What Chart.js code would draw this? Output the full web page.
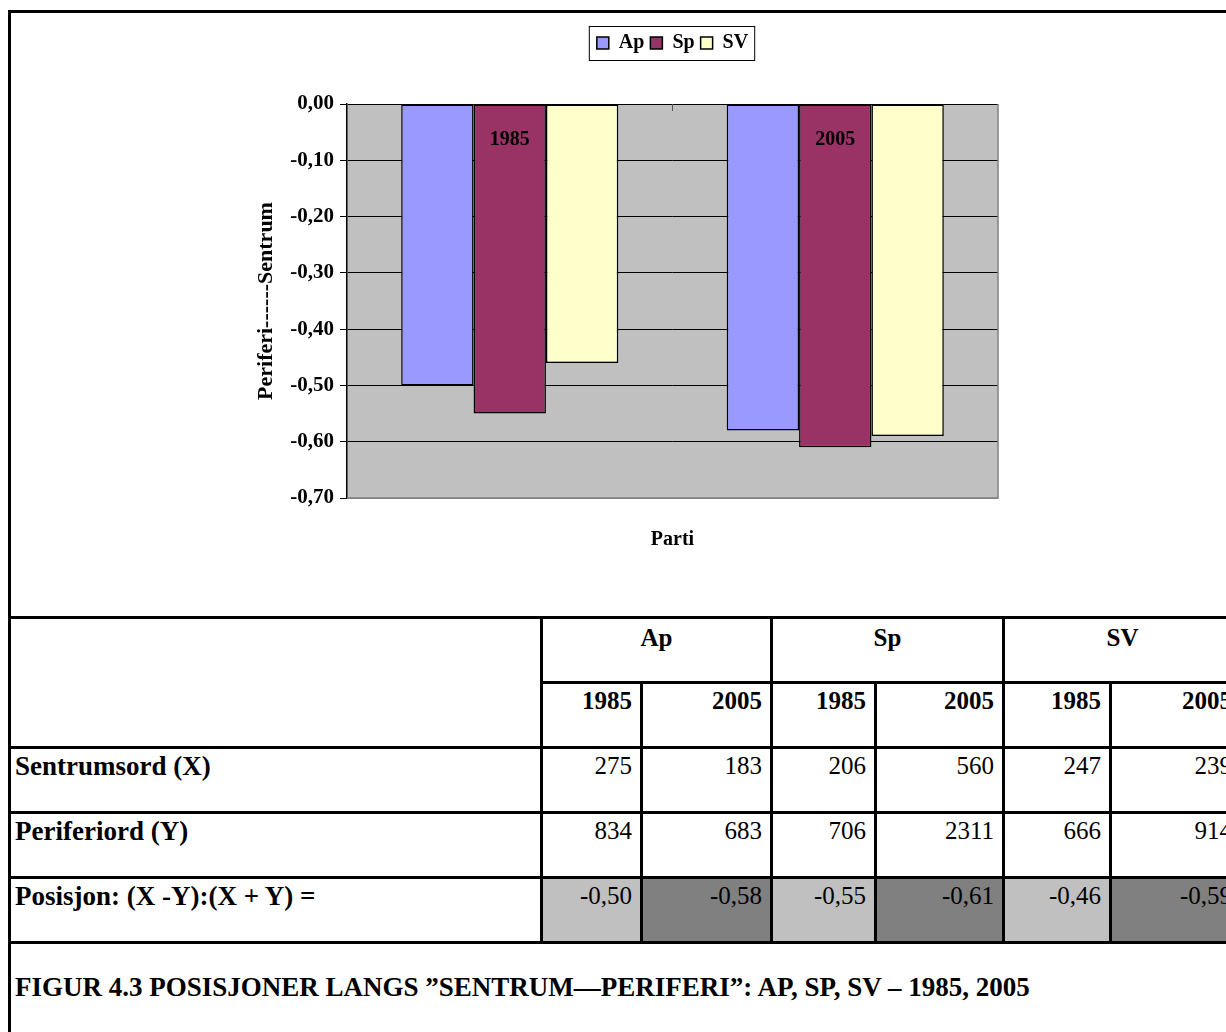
<!DOCTYPE html>
<html>
<head>
<meta charset="utf-8">
<script src="https://cdn.jsdelivr.net/npm/chart.js@4.4.0/dist/chart.umd.min.js"></script>
<style>
  html, body { margin: 0; padding: 0; background: #fff; overflow: hidden; }
  body { width: 1226px; height: 1032px; position: relative; font-family: "Times New Roman", "Liberation Serif", serif; }
  #tbl { position: absolute; left: 8px; top: 10px; border-collapse: collapse; table-layout: fixed; width: 1232px; }
  #tbl td { border: 3px solid #000; padding: 3px 8px 0 8px; font-size: 25px; vertical-align: top; text-align: right; color: #000; }
  #tbl td.lbl { text-align: left; font-weight: bold; padding-left: 4px; font-size: 27px; padding-top: 2px; }
  #tbl td.hd { font-weight: bold; }
  #tbl td.grp { text-align: center; font-weight: bold; padding-top: 5px; }
  #tbl td.lys { background: #C0C0C0; }
  #tbl td.mork { background: #808080; }
  #tbl td.cap { text-align: left; font-weight: bold; padding-left: 4px; font-size: 27px; padding-top: 28px; }
  #wrap { position: absolute; left: 10px; top: 13px; width: 1216px; height: 604px; z-index: 2; }
</style>
</head>
<body>
<table id="tbl"></table>
<div id="wrap"><canvas id="myChart"></canvas></div>
<script>
// diagram
const categories = ["1985", "2005"];
const apValues = [-0.50, -0.58];
const spValues = [-0.55, -0.61];
const svValues = [-0.46, -0.59];
const yMin = -0.7;
const yMax = 0;
const yStep = 0.1;

// tabell
const parties = ["Ap", "Sp", "SV"];
const tableYears = ["1985", "2005", "1985", "2005", "1985", "2005"];
const sentrumsord = [275, 183, 206, 560, 247, 239];
const periferiord = [834, 683, 706, 2311, 666, 914];
const posisjon = [-0.50, -0.58, -0.55, -0.61, -0.46, -0.59];
const caption = "FIGUR 4.3 POSISJONER LANGS \u201DSENTRUM\u2014PERIFERI\u201D: AP, SP, SV \u2013 1985, 2005";

const komma = (v) => (Math.abs(v) < 1e-9 ? 0 : v).toFixed(2).replace(".", ",");

// bygg tabellen
let html = '<colgroup><col style="width:532px"><col style="width:100px"><col style="width:130px">' +
  '<col style="width:104px"><col style="width:128px"><col style="width:107px"><col style="width:131px"></colgroup>';
html += '<tr style="height:606px"><td colspan="7"></td></tr>';
html += '<tr style="height:65px"><td rowspan="2"></td>' + parties.map(p => '<td class="grp" colspan="2">' + p + '</td>').join("") + '</tr>';
html += '<tr style="height:65px">' + tableYears.map(y => '<td class="hd">' + y + '</td>').join("") + '</tr>';
html += '<tr style="height:65px"><td class="lbl">Sentrumsord (X)</td>' + sentrumsord.map(v => '<td>' + v + '</td>').join("") + '</tr>';
html += '<tr style="height:65px"><td class="lbl">Periferiord (Y)</td>' + periferiord.map(v => '<td>' + v + '</td>').join("") + '</tr>';
html += '<tr style="height:65px"><td class="lbl">Posisjon: (X -Y):(X + Y) =</td>' +
  posisjon.map((v, i) => '<td class="' + (i % 2 ? "mork" : "lys") + '">' + komma(v) + '</td>').join("") + '</tr>';
html += '<tr style="height:130px"><td class="cap" colspan="7">' + caption + '</td></tr>';
document.getElementById("tbl").innerHTML = html;

const serif = "'Times New Roman', 'Liberation Serif', serif";
Chart.defaults.font.family = serif;
Chart.defaults.color = "#000";

// grå plottbakgrunn + ramme, årstall inne i plottet, ramme rundt legend
const excelLook = {
  id: "excelLook",
  beforeUpdate(chart) {
    // litt luft under legenden
    if (chart.legend && !chart.legend._patched) {
      const fit = chart.legend.fit;
      chart.legend.fit = function () { fit.call(this); this.height += 41; };
      chart.legend._patched = true;
    }
  },
  beforeDraw(chart) {
    const { ctx, chartArea: a } = chart;
    ctx.save();
    ctx.fillStyle = "#C0C0C0";
    ctx.fillRect(a.left, a.top, a.right - a.left, a.bottom - a.top);
    ctx.restore();
  },
  beforeDatasetsDraw(chart) {
    const { ctx, chartArea: a } = chart;
    ctx.save();
    ctx.strokeStyle = "#808080";
    ctx.lineWidth = 1.5;
    ctx.beginPath();
    ctx.moveTo(a.right, a.top);
    ctx.lineTo(a.right, a.bottom);
    ctx.lineTo(a.left, a.bottom);
    ctx.stroke();
    ctx.restore();
  },
  afterDatasetsDraw(chart) {
    const { ctx, scales } = chart;
    const y0 = scales.y.getPixelForValue(0);
    ctx.save();
    // tick mellom kategoriene
    ctx.strokeStyle = "#555";
    ctx.lineWidth = 1;
    const mid = (scales.x.getPixelForValue(0) + scales.x.getPixelForValue(1)) / 2;
    ctx.beginPath();
    ctx.moveTo(mid, y0);
    ctx.lineTo(mid, y0 + 7);
    ctx.stroke();
    ctx.fillStyle = "#000";
    ctx.font = "bold 20px " + serif;
    ctx.textAlign = "center";
    ctx.textBaseline = "middle";
    categories.forEach((c, i) => {
      ctx.fillText(c, scales.x.getPixelForValue(i), y0 + 36);
    });
    ctx.restore();
  },
  afterDraw(chart) {
    const hb = chart.legend.legendHitBoxes;
    if (!hb || !hb.length) return;
    const x1 = Math.min(...hb.map((b) => b.left)) - 8;
    const x2 = Math.max(...hb.map((b) => b.left + b.width)) + 6;
    const y1 = hb[0].top - 7;
    const y2 = hb[0].top + hb[0].height + 7;
    const ctx = chart.ctx;
    ctx.save();
    ctx.strokeStyle = "#000";
    ctx.lineWidth = 1;
    ctx.strokeRect(x1 + 0.5, y1 + 0.5, x2 - x1, y2 - y1);
    ctx.restore();
  },
};

const ctx = document.getElementById("myChart");
new Chart(ctx, {
  type: "bar",
  data: {
    labels: categories,
    datasets: [
      { label: "Ap", data: apValues, backgroundColor: "#9999FF" },
      { label: "Sp", data: spValues, backgroundColor: "#993366" },
      { label: "SV", data: svValues, backgroundColor: "#FFFFCC" },
    ],
  },
  options: {
    responsive: true,
    maintainAspectRatio: false,
    animation: false,
    datasets: {
      bar: {
        borderColor: "#000",
        borderWidth: 1.5,
        borderSkipped: false,
        categoryPercentage: 0.667,
        barPercentage: 1.0,
      },
    },
    layout: {
      padding: { left: 240, right: 228, top: 14, bottom: 61 },
    },
    plugins: {
      legend: {
        fullSize: false,
        labels: {
          boxWidth: 12,
          boxHeight: 12,
          padding: 6,
          font: { size: 20, weight: "bold" },
        },
      },
      tooltip: { enabled: false },
    },
    scales: {
      x: {
        grid: { display: false },
        border: { display: false },
        ticks: { display: false },
        title: {
          display: true,
          text: "Parti",
          font: { size: 20, weight: "bold" },
          padding: { top: 4, bottom: 4 },
        },
        afterFit(scale) { scale.height = 58; },
      },
      y: {
        min: yMin,
        max: yMax,
        ticks: {
          stepSize: yStep,
          padding: 6,
          font: { size: 21, weight: "bold" },
          callback: (v) => komma(v),
        },
        grid: {
          color: (c) => (c.tick && Math.abs(c.tick.value - yMin) < 1e-9 ? "#808080" : "#000"),
          tickColor: "#000",
          tickLength: 7,
        },
        border: { color: "#000", width: 1.5 },
        title: {
          display: true,
          text: "Periferi------Sentrum",
          font: { size: 22, weight: "bold" },
          padding: { top: 3, bottom: 4 },
        },
        afterFit(scale) { scale.width = 97; },
      },
    },
  },
  plugins: [excelLook],
});
</script>
</body>
</html>
